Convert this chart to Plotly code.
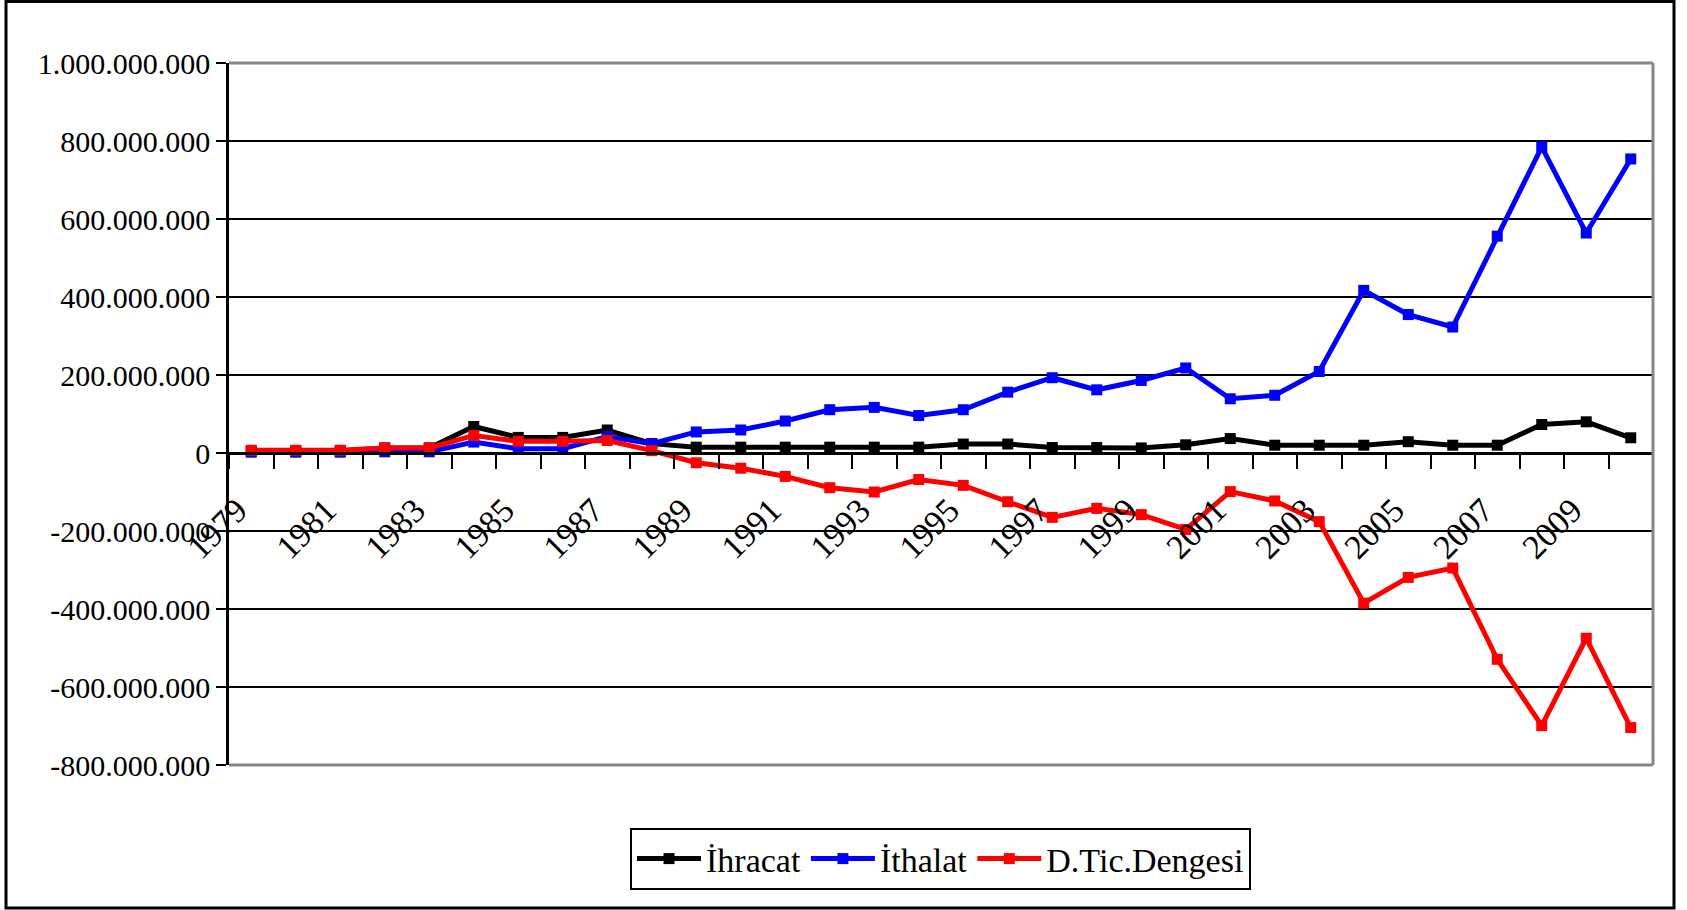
import plotly.graph_objects as go

# ---- data (values in millions) ----
years = list(range(1979, 2011))
ihracat = [5, 5, 5, 13, 13, 68, 40, 40, 59, 24, 15, 15, 15, 15, 15, 15, 23, 23, 14, 14,
           13, 21, 37, 20, 20, 20, 29, 20, 20, 73, 80, 39]
ithalat = [2, 2, 2, 3, 3, 28, 11, 11, 42, 24, 54, 59, 82, 111, 117, 96, 111, 156, 193, 162,
           186, 218, 139, 148, 209, 417, 355, 323, 556, 785, 564, 754]
dengesi = [7, 7, 7, 13, 13, 45, 30, 30, 32, 6, -25, -39, -60, -89, -100, -68, -83, -125, -165, -142,
           -158, -196, -99, -123, -176, -385, -319, -295, -529, -699, -475, -704]
UNIT = 1_000_000

series_names = ["İhracat", "İthalat", "D.Tic.Dengesi"]
series_colors = ["#000000", "#0000FF", "#FF0000"]

x_label_years = list(range(1979, 2011, 2))
x_label_text = [str(y) for y in x_label_years]

y_tick_vals = [-800, -600, -400, -200, 0, 200, 400, 600, 800, 1000]
y_tick_text = ["-800.000.000", "-600.000.000", "-400.000.000", "-200.000.000", "0",
               "200.000.000", "400.000.000", "600.000.000", "800.000.000", "1.000.000.000"]

# ---- figure ----
W, H = 1687, 910
L, R, T, B = 229, 34, 63, 145
pw, ph = W - L - R, H - T - B

def px_to_paper_x(px):
    return (px - L) / pw

def px_to_paper_y(py):
    return (H - B - py) / ph

fig = go.Figure()
for name, vals, col in zip(series_names, [ihracat, ithalat, dengesi], series_colors):
    fig.add_trace(go.Scatter(
        x=years, y=[v * UNIT for v in vals], name=name, mode="lines+markers",
        line=dict(color=col, width=5),
        marker=dict(symbol="square", size=11, color=col),
    ))

ymin, ymax = y_tick_vals[0] * UNIT, y_tick_vals[-1] * UNIT
zero_pos = (0 - ymin) / (ymax - ymin)

fig.update_layout(
    width=W, height=H,
    margin=dict(l=L, r=R, t=T, b=B, pad=0),
    plot_bgcolor="white", paper_bgcolor="white",
    font=dict(family="Liberation Serif", color="black", size=29),
    showlegend=True,
    legend=dict(
        orientation="h", x=px_to_paper_x(630), y=px_to_paper_y(828),
        xanchor="left", yanchor="top",
        bordercolor="black", borderwidth=2, bgcolor="white",
        font=dict(family="Liberation Serif", size=34, color="black"),
        itemwidth=64, tracegroupgap=0,
    ),
    xaxis=dict(
        range=[years[0] - 0.5, years[-1] + 0.5],
        anchor="free", position=zero_pos,
        showline=True, linecolor="black", linewidth=2.5,
        showgrid=False, zeroline=False,
        tickmode="array", tickvals=x_label_years, ticktext=x_label_text,
        tickangle=-45, ticks="",
        ticklabelstandoff=22, ticklabelshift=-14,
        tickfont=dict(family="Liberation Serif", size=34, color="black"),
        minor=dict(tickmode="linear", tick0=years[0] - 0.5, dtick=1,
                   ticks="outside", ticklen=14, tickwidth=2, tickcolor="black",
                   showgrid=False),
    ),
    yaxis=dict(
        range=[ymin, ymax],
        tickmode="array", tickvals=[v * UNIT for v in y_tick_vals], ticktext=y_tick_text,
        showgrid=True, gridcolor="black", gridwidth=2,
        zeroline=False, showline=True, linecolor="black", linewidth=2.5,
        ticks="outside", ticklen=10, tickwidth=2, tickcolor="black",
        tickfont=dict(family="Liberation Serif", size=30, color="black"),
    ),
    shapes=[
        # plot-area border (top, right, bottom) in gray
        dict(type="line", xref="paper", yref="paper", x0=0, x1=1, y0=1, y1=1,
             line=dict(color="#868686", width=3), layer="above"),
        dict(type="line", xref="paper", yref="paper", x0=1, x1=1, y0=0, y1=1,
             line=dict(color="#868686", width=3), layer="above"),
        dict(type="line", xref="paper", yref="paper", x0=0, x1=1, y0=0, y1=0,
             line=dict(color="#868686", width=3), layer="above"),
        # outer chart frame
        dict(type="rect", xref="paper", yref="paper",
             x0=px_to_paper_x(6), x1=px_to_paper_x(1674),
             y0=px_to_paper_y(908), y1=px_to_paper_y(1.5),
             line=dict(color="black", width=3), layer="above"),
    ],
)

fig.write_html("out.html", config={"displayModeBar": False},
               post_script="document.body.style.margin='0';")
